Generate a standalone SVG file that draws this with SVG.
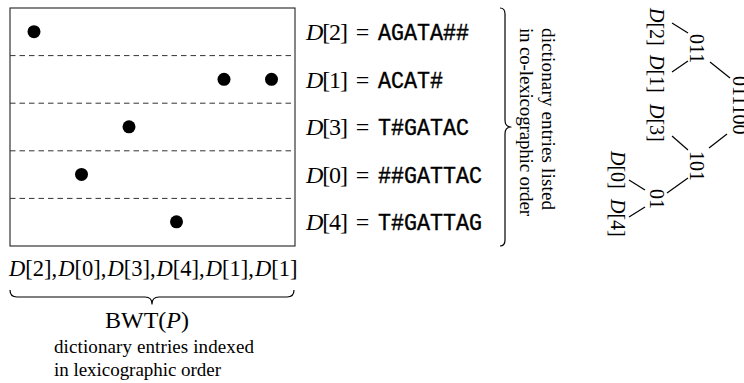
<svg xmlns="http://www.w3.org/2000/svg" width="744" height="383" viewBox="0 0 744 383">
<style>
text{font-family:"Liberation Serif","DejaVu Serif",serif;fill:#000}
.m{font-size:24px}
.l{font-size:22.5px}
.s{font-size:19px}
.t{font-size:20px}
.i{font-style:italic}
.tt{font-family:"Liberation Mono","Courier New",monospace;font-size:23px;stroke:#000;stroke-width:0.4}
.dash{stroke:#333;stroke-width:1;stroke-dasharray:5.5 4;fill:none}
.edge{stroke:#000;stroke-width:1.2;fill:none}
.brace{stroke:#000;stroke-width:1.2;fill:none;stroke-linejoin:round}
</style>
<rect width="744" height="383" fill="#fff"/>
<g id="matrix">
<rect x="10" y="8" width="285" height="238" fill="none" stroke="#222" stroke-width="1.1"/>
<line class="dash" x1="10" y1="55.6" x2="295" y2="55.6"/>
<line class="dash" x1="10" y1="103.2" x2="295" y2="103.2"/>
<line class="dash" x1="10" y1="150.8" x2="295" y2="150.8"/>
<line class="dash" x1="10" y1="198.4" x2="295" y2="198.4"/>
<circle cx="34" cy="31.7" r="6.5"/>
<circle cx="224" cy="79.3" r="6.5"/>
<circle cx="271.5" cy="79.3" r="6.5"/>
<circle cx="129" cy="126.8" r="6.5"/>
<circle cx="81.5" cy="174.4" r="6.5"/>
<circle cx="176.5" cy="221.8" r="6.5"/>
</g>
<g id="entries">
<text class="m" x="306" y="40" textLength="42"><tspan class="i">D</tspan>[2]</text>
<text class="m" x="362.5" y="40" text-anchor="middle">=</text>
<text class="tt" x="378" y="40" textLength="91" lengthAdjust="spacingAndGlyphs">AGATA##</text>
<text class="m" x="306" y="87.5" textLength="42"><tspan class="i">D</tspan>[1]</text>
<text class="m" x="362.5" y="87.5" text-anchor="middle">=</text>
<text class="tt" x="378" y="87.5" textLength="65" lengthAdjust="spacingAndGlyphs">ACAT#</text>
<text class="m" x="306" y="135" textLength="42"><tspan class="i">D</tspan>[3]</text>
<text class="m" x="362.5" y="135" text-anchor="middle">=</text>
<text class="tt" x="378" y="135" textLength="91" lengthAdjust="spacingAndGlyphs">T#GATAC</text>
<text class="m" x="306" y="182.5" textLength="42"><tspan class="i">D</tspan>[0]</text>
<text class="m" x="362.5" y="182.5" text-anchor="middle">=</text>
<text class="tt" x="378" y="182.5" textLength="104" lengthAdjust="spacingAndGlyphs">##GATTAC</text>
<text class="m" x="306" y="230" textLength="42"><tspan class="i">D</tspan>[4]</text>
<text class="m" x="362.5" y="230" text-anchor="middle">=</text>
<text class="tt" x="378" y="230" textLength="104" lengthAdjust="spacingAndGlyphs">T#GATTAG</text>
</g>
<g id="right-brace">
<path class="brace" d="M500,8 Q505,8 505,14 L505,120 Q505,127 511,127 Q505,127 505,134 L505,240 Q505,246 500,246"/>
<text class="s" transform="translate(542,28) rotate(90)" textLength="182">dictionary entries listed</text>
<text class="s" transform="translate(520,28) rotate(90)" textLength="188">in co-lexicographic order</text>
</g>
<g id="bwt">
<text class="l" y="276"><tspan x="9" class="i">D</tspan>[2],<tspan x="58.2" class="i">D</tspan>[0],<tspan x="107.4" class="i">D</tspan>[3],<tspan x="156.6" class="i">D</tspan>[4],<tspan x="205.8" class="i">D</tspan>[1],<tspan x="255" class="i">D</tspan>[1]</text>
<path class="brace" d="M10,290 Q10,297 17,297 L145,297 Q152,297 152,304 Q152,297 159,297 L287,297 Q294,297 294,290"/>
<text class="m" x="105" y="328" textLength="84">BWT(<tspan class="i">P</tspan>)</text>
<text class="s" x="54" y="353" textLength="200">dictionary entries indexed</text>
<text class="s" x="54" y="376" textLength="167">in lexicographic order</text>
</g>
<g id="tree-edges">
<line class="edge" x1="672" y1="23" x2="688" y2="33"/>
<line class="edge" x1="688" y1="61" x2="672" y2="72"/>
<line class="edge" x1="710" y1="62" x2="730" y2="78"/>
<line class="edge" x1="727" y1="134" x2="709" y2="148"/>
<line class="edge" x1="672" y1="136" x2="688" y2="150"/>
<line class="edge" x1="688" y1="178" x2="667" y2="193"/>
<line class="edge" x1="629" y1="180" x2="645" y2="190"/>
<line class="edge" x1="645" y1="207" x2="629" y2="217"/>
</g>
<g id="node-011100"><text class="t" transform="translate(733,76) rotate(90)">011100</text></g>
<g id="node-011"><text class="t" transform="translate(690,34) rotate(90)">011</text></g>
<g id="node-101"><text class="t" transform="translate(690,151) rotate(90)">101</text></g>
<g id="node-01"><text class="t" transform="translate(650,189) rotate(90)">01</text></g>
<g id="leaf-D2"><text class="t" transform="translate(650,8) rotate(90)"><tspan class="i">D</tspan>[2]</text></g>
<g id="leaf-D1"><text class="t" transform="translate(650,55) rotate(90)"><tspan class="i">D</tspan>[1]</text></g>
<g id="leaf-D3"><text class="t" transform="translate(650,104) rotate(90)"><tspan class="i">D</tspan>[3]</text></g>
<g id="leaf-D0"><text class="t" transform="translate(611,151) rotate(90)"><tspan class="i">D</tspan>[0]</text></g>
<g id="leaf-D4"><text class="t" transform="translate(611,199) rotate(90)"><tspan class="i">D</tspan>[4]</text></g>
</svg>
